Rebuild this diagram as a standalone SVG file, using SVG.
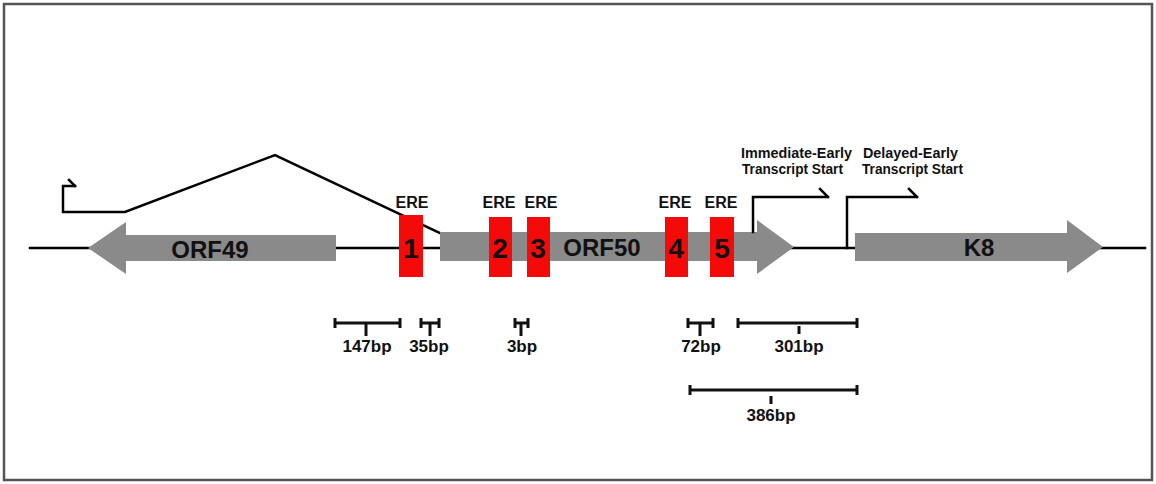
<svg xmlns="http://www.w3.org/2000/svg" width="1156" height="484" viewBox="0 0 1156 484">
<style>
.ln{fill:none;stroke:#000;stroke-width:2.5;stroke-linecap:square}
.bar{fill:none;stroke:#111;stroke-width:3}
.gene{fill:#8a8a8a}
.ere{fill:#f50a0a}
.t{font-family:"Liberation Sans",Arial,sans-serif;font-weight:bold;fill:#111;text-anchor:middle}
.big{font-size:24px}
.num{font-size:28px}
.lab{font-size:16px}
.bp{font-size:17px}
.ts{font-size:14px;text-anchor:start}
</style>
<rect x="4" y="4" width="1148" height="476" fill="#fff" stroke="#555" stroke-width="2.5"/>
<g id="connectors">
<line class="ln" x1="30" y1="248" x2="1145" y2="248" stroke-width="3"/>
<path class="ln" d="M75,186 H63 V212 H125 L275,155 L440,233"/>
<path class="ln" d="M69,180 L75,186"/>
</g>
<g id="orf49">
<polygon class="gene" points="88,248 126,222 126,235 336,235 336,261 126,261 126,274"/>
<text class="t big" x="210" y="258">ORF49</text>
</g>
<g id="orf50">
<polygon class="gene" points="440,232 757,232 757,220 794,247 757,274 757,261 440,261"/>
<text class="t big" x="602" y="256">ORF50</text>
</g>
<g id="k8">
<polygon class="gene" points="855,233 1067,233 1067,220 1103,247 1067,273 1067,261 855,261"/>
<text class="t big" x="979" y="256">K8</text>
</g>
<g id="ere1">
<rect class="ere" x="399" y="215" width="24" height="62"/>
<text class="t lab" x="412" y="208">ERE</text>
<text class="t num" x="411" y="258">1</text>
</g>
<g id="ere2">
<rect class="ere" x="489" y="217" width="23" height="60"/>
<text class="t lab" x="499" y="208">ERE</text>
<text class="t num" x="500" y="258">2</text>
</g>
<g id="ere3">
<rect class="ere" x="527" y="217" width="23" height="60"/>
<text class="t lab" x="541" y="208">ERE</text>
<text class="t num" x="538" y="258">3</text>
</g>
<g id="ere4">
<rect class="ere" x="665" y="217" width="23" height="60"/>
<text class="t lab" x="675" y="208">ERE</text>
<text class="t num" x="676" y="258">4</text>
</g>
<g id="ere5">
<rect class="ere" x="710" y="217" width="24" height="60"/>
<text class="t lab" x="721" y="208">ERE</text>
<text class="t num" x="722" y="258">5</text>
</g>
<g id="ie-start">
<path class="ln" d="M753,232 V197 H828 M820,189 L828,197"/>
<text class="t ts" x="741" y="158" textLength="111" lengthAdjust="spacingAndGlyphs">Immediate-Early</text>
<text class="t ts" x="742" y="174" textLength="101" lengthAdjust="spacingAndGlyphs">Transcript Start</text>
</g>
<g id="de-start">
<path class="ln" d="M847,248 V197 H917 M909,189 L917,197"/>
<text class="t ts" x="863" y="158" textLength="95" lengthAdjust="spacingAndGlyphs">Delayed-Early</text>
<text class="t ts" x="862" y="174" textLength="101" lengthAdjust="spacingAndGlyphs">Transcript Start</text>
</g>
<g id="bar147">
<path class="bar" d="M335,323 H400 M335,318 V328 M400,318 V328 M366,323 V336"/>
<text class="t bp" x="367" y="352">147bp</text>
</g>
<g id="bar35">
<path class="bar" d="M421,323 H439 M421,318 V328 M439,318 V328 M430,323 V336"/>
<text class="t bp" x="429" y="352">35bp</text>
</g>
<g id="bar3">
<path class="bar" d="M515,323 H528 M515,318 V328 M528,318 V328 M521,323 V336"/>
<text class="t bp" x="522" y="352">3bp</text>
</g>
<g id="bar72">
<path class="bar" d="M688,323 H713 M688,318 V328 M713,318 V328 M700,323 V336"/>
<text class="t bp" x="701" y="352">72bp</text>
</g>
<g id="bar301">
<path class="bar" d="M738,323 H857 M738,318 V328 M857,318 V328 M799,326 V334"/>
<text class="t bp" x="799" y="352">301bp</text>
</g>
<g id="bar386">
<path class="bar" d="M690,390 H857 M690,385 V395 M857,385 V395 M771,396 V404"/>
<text class="t bp" x="771" y="421">386bp</text>
</g>
</svg>
